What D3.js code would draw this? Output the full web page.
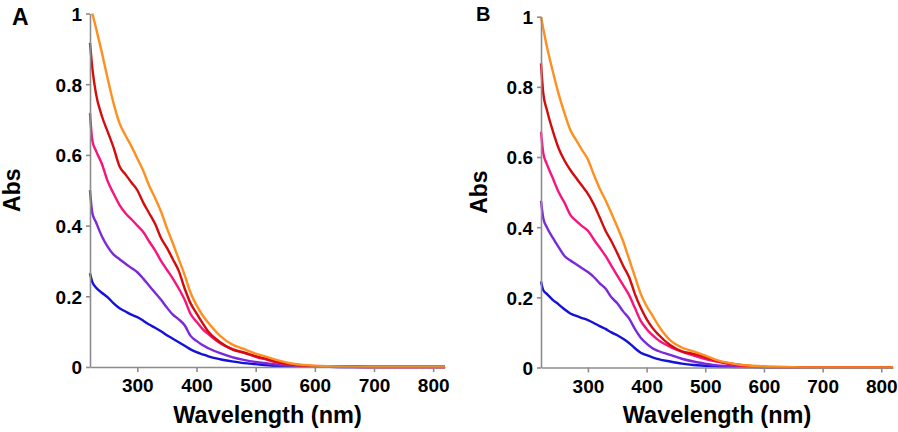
<!DOCTYPE html>
<html>
<head>
<meta charset="utf-8">
<script src="https://cdn.jsdelivr.net/npm/d3@7"></script>
<style>
  body { margin: 0; background: #fff; }
  svg { display: block; font-family: "Liberation Sans", Arial, sans-serif; }
  .tick text { font-weight: bold; font-size: 19px; fill: #000; }
  .lbl { font-weight: bold; fill: #000; }
</style>
</head>
<body>
<svg id="chart" width="898" height="432"></svg>
<script>
// wavelength grid (nm), shared by every trace
const wavelengths = [220,224,230,240,250,260,270,280,290,300,310,320,330,340,350,360,370,380,390,400,410,420,440,460,480,500,520,540,560,580,600,650,700,820]

const xTicks = [300,400,500,600,700,800]
const yTicks = [0,0.2,0.4,0.6,0.8,1]
const traceColors = ['#1412d8','#7a2ad8','#f7147e','#d40c0c','#ff8f1f']

// panel A absorbance
const absA_blue   = [.265,.24,.225,.21,.197,.18,.166,.157,.148,.141,.131,.12,.111,.101,.09,.08,.07,.06,.05,.042,.036,.03,.022,.016,.011,.008,.005,.003,.002,.001,.001,0,0,0]
const absA_purple = [.50,.435,.41,.37,.34,.318,.305,.292,.28,.268,.25,.23,.21,.19,.168,.148,.135,.118,.088,.074,.062,.053,.039,.028,.02,.014,.01,.006,.004,.002,.001,0,0,0]
const absA_pink   = [.718,.64,.612,.575,.525,.49,.458,.435,.418,.4,.382,.355,.33,.30,.275,.25,.222,.19,.15,.128,.108,.093,.067,.051,.04,.029,.02,.011,.006,.003,.002,.0005,0,0]
const absA_red    = [.917,.845,.774,.71,.665,.62,.567,.545,.522,.50,.465,.435,.405,.365,.337,.305,.272,.222,.18,.152,.125,.1,.07,.05,.041,.031,.022,.013,.007,.004,.002,.001,0,0]
const absA_orange = [null,1.0,.96,.89,.815,.745,.689,.655,.624,.59,.555,.513,.478,.44,.393,.35,.305,.26,.21,.175,.147,.125,.088,.064,.051,.038,.028,.018,.01,.006,.004,.001,0,0]

// panel B absorbance
const absB_blue   = [.245,.22,.21,.193,.18,.166,.154,.147,.141,.135,.127,.118,.11,.1,.092,.082,.07,.055,.042,.035,.029,.024,.017,.011,.007,.005,.003,.002,.001,.001,0,0,0,0]
const absB_purple = [.475,.425,.40,.37,.343,.318,.305,.294,.283,.272,.258,.24,.225,.2,.183,.16,.14,.11,.085,.068,.055,.047,.036,.025,.017,.011,.006,.004,.002,.001,.001,0,0,0]
const absB_pink   = [.672,.61,.58,.54,.5,.47,.435,.418,.403,.39,.365,.342,.318,.29,.262,.235,.207,.17,.133,.11,.092,.078,.059,.045,.034,.024,.017,.01,.005,.003,.001,0,0,0]
const absB_red    = [.867,.78,.735,.675,.625,.59,.563,.54,.518,.495,.465,.428,.39,.36,.326,.29,.258,.21,.17,.138,.113,.094,.064,.046,.039,.03,.019,.012,.007,.004,.002,.0005,0,0]
const absB_orange = [1.0,.965,.915,.845,.78,.725,.677,.648,.62,.593,.55,.51,.477,.44,.401,.36,.31,.26,.21,.175,.148,.12,.078,.057,.046,.034,.021,.013,.008,.005,.003,.001,0,0]

const svg = d3.select('#chart')

drawPanel({
  label:'A', labelSize:23, labelX:12, labelY:25,
  left:90, right:445, top:13.5, bottom:367, absX:20,
  traces:[absA_blue,absA_purple,absA_pink,absA_red,absA_orange]
})
drawPanel({
  label:'B', labelSize:20, labelX:476, labelY:21,
  left:541, right:893, top:16.7, bottom:367.5, absX:487,
  traces:[absB_blue,absB_purple,absB_pink,absB_red,absB_orange]
})

function drawPanel(p){
  let x = d3.scaleLinear().domain([220,820]).range([p.left,p.right])
  let y = d3.scaleLinear().domain([0,1]).range([p.bottom,p.top])
  let g = svg.append('g')

  let line = d3.line()
    .defined(d=>d[1]!=null)
    .x(d=>x(d[0]))
    .y(d=>y(d[1]))
    .curve(d3.curveMonotoneX)

  p.traces.forEach((t,i)=>{
    g.append('path')
      .datum(wavelengths.map((w,j)=>[w,t[j]]))
      .attr('fill','none')
      .attr('stroke',traceColors[i])
      .attr('stroke-width',2.4)
      .attr('stroke-linejoin','round')
      .attr('d',line)
  })

  let xa = g.append('g')
    .attr('transform',`translate(0,${p.bottom})`)
    .call(d3.axisBottom(x).tickValues(xTicks).tickSize(5).tickSizeOuter(0).tickPadding(7))
  let ya = g.append('g')
    .attr('transform',`translate(${p.left},0)`)
    .call(d3.axisLeft(y).tickValues(yTicks).tickSize(4).tickSizeOuter(0).tickPadding(4).tickFormat(d=>String(d)))
  ;[xa,ya].forEach(a=>{
    a.selectAll('path,line').attr('stroke','#8c8c8c').attr('stroke-width',1.6)
    a.attr('font-family',null).attr('font-size',null)
  })
  ya.selectAll('.tick text').attr('dy','0.36em')

  g.append('text').attr('class','lbl')
    .attr('x',(p.left+p.right)/2).attr('y',423)
    .attr('text-anchor','middle').attr('font-size',23.5)
    .text('Wavelength (nm)')

  g.append('text').attr('class','lbl')
    .attr('transform',`translate(${p.absX},${(p.top+p.bottom)/2}) rotate(-90)`)
    .attr('text-anchor','middle').attr('font-size',23)
    .text('Abs')

  g.append('text').attr('class','lbl')
    .attr('x',p.labelX).attr('y',p.labelY)
    .attr('font-size',p.labelSize)
    .text(p.label)
}
</script>
</body>
</html>
